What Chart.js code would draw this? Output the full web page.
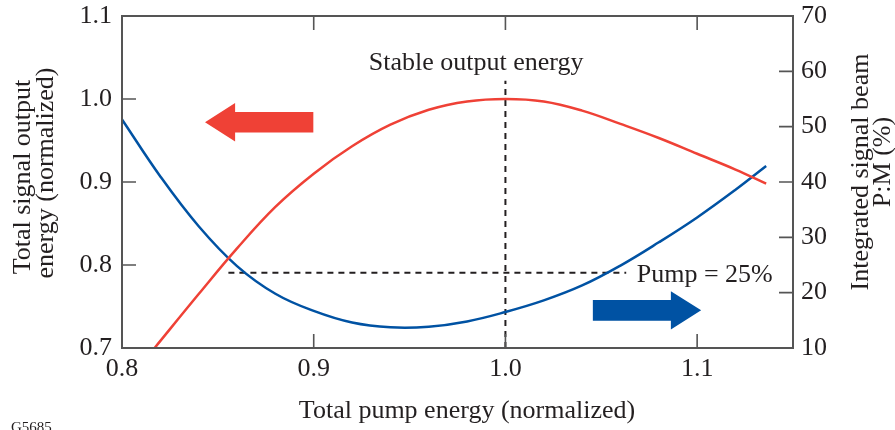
<!DOCTYPE html>
<html>
<head>
<meta charset="utf-8">
<script src="https://cdn.jsdelivr.net/npm/chart.js@4/dist/chart.umd.min.js"></script>
<style>
  html, body { margin: 0; padding: 0; background: #fff; }
  #wrap { width: 895px; height: 430px; }
</style>
</head>
<body>
<div id="wrap"><canvas id="c" width="895" height="430"></canvas></div>
<script>
// ---- data ----
const redX = [0.817, 0.840, 0.860, 0.880, 0.900, 0.920, 0.940, 0.960, 0.980, 1.000, 1.020, 1.040, 1.060, 1.080, 1.100, 1.120, 1.136];
const redY = [0.700, 0.765, 0.820, 0.870, 0.910, 0.943, 0.969, 0.987, 0.997, 1.000, 0.997, 0.986, 0.970, 0.953, 0.934, 0.915, 0.898];

const blueX = [0.800, 0.820, 0.840, 0.860, 0.880, 0.900, 0.920, 0.940, 0.960, 0.980, 1.000, 1.020, 1.040, 1.060, 1.080, 1.100, 1.120, 1.136];
const blueY = [51.3, 41.0, 32.0, 24.8, 19.8, 16.7, 14.6, 13.75, 13.85, 14.8, 16.5, 18.6, 21.3, 24.9, 29.1, 33.6, 38.6, 42.9];

const stableX = [1.0, 1.0];
const stableY = [0.7, 1.022];
const pumpX = [0.8555, 1.063];
const pumpY = [23.6, 23.6];

const xTicks = [0.8, 0.9, 1.0, 1.1];
const yTicks = [0.7, 0.8, 0.9, 1.0, 1.1];
const y2Ticks = [10, 20, 30, 40, 50, 60, 70];

// annotation anchors (data units)
const redArrow = { tail: 0.8998, base: 0.859, tip: 0.8433, y: 0.972 };
const blueArrow = { tail: 1.0456, base: 1.0863, tip: 1.1021, y: 16.8 };
const stableLabel = { text: 'Stable output energy', x: 0.9847, y: 1.035 };
const pumpLabel = { text: 'Pump = 25%', x: 1.0685, y: 21.9 };

// ---- styles ----
const RED = '#EF4136';
const BLUE = '#0052A3';
const INK = '#231F20';
const AXIS = '#555555';
const FONT = '"Liberation Serif", "Times New Roman", serif';

const pts = (xs, ys) => xs.map((x, i) => ({ x: x, y: ys[i] }));

const decorPlugin = {
  id: 'decor',
  afterDatasetsDraw(chart) {
    const ctx = chart.ctx;
    const a = chart.chartArea;
    const sx = chart.scales.x, sy = chart.scales.y, sy2 = chart.scales.y2;

    function arrow(ar, yScale, color) {
      const yc = yScale.getPixelForValue(ar.y);
      const xt = sx.getPixelForValue(ar.tail);
      const xb = sx.getPixelForValue(ar.base);
      const xp = sx.getPixelForValue(ar.tip);
      const sh = 10.3, hh = 19.2;
      ctx.save();
      ctx.fillStyle = color;
      ctx.beginPath();
      ctx.moveTo(xt, yc - sh);
      ctx.lineTo(xb, yc - sh);
      ctx.lineTo(xb, yc - hh);
      ctx.lineTo(xp, yc);
      ctx.lineTo(xb, yc + hh);
      ctx.lineTo(xb, yc + sh);
      ctx.lineTo(xt, yc + sh);
      ctx.closePath();
      ctx.fill();
      ctx.restore();
    }
    arrow(redArrow, sy, RED);
    arrow(blueArrow, sy2, BLUE);

    ctx.save();
    ctx.fillStyle = INK;
    ctx.font = '26px ' + FONT;
    ctx.textBaseline = 'alphabetic';
    ctx.textAlign = 'center';
    ctx.fillText(stableLabel.text, sx.getPixelForValue(stableLabel.x), sy.getPixelForValue(stableLabel.y));
    ctx.textAlign = 'left';
    ctx.fillText(pumpLabel.text, sx.getPixelForValue(pumpLabel.x), sy2.getPixelForValue(pumpLabel.y));
    ctx.restore();

    ctx.save();
    ctx.strokeStyle = AXIS;
    ctx.lineWidth = 2;
    ctx.strokeRect(a.left, a.top, a.right - a.left, a.bottom - a.top);

    ctx.lineWidth = 1.6;
    const TL = 14;
    ctx.beginPath();
    sx.ticks.forEach(t => {
      const p = sx.getPixelForValue(t.value);
      if (p <= a.left + 1 || p >= a.right - 1) return;
      ctx.moveTo(p, a.bottom); ctx.lineTo(p, a.bottom - TL);
      ctx.moveTo(p, a.top); ctx.lineTo(p, a.top + TL);
    });
    sy.ticks.forEach(t => {
      const p = sy.getPixelForValue(t.value);
      if (p <= a.top + 1 || p >= a.bottom - 1) return;
      ctx.moveTo(a.left, p); ctx.lineTo(a.left + TL, p);
    });
    sy2.ticks.forEach(t => {
      const p = sy2.getPixelForValue(t.value);
      if (p <= a.top + 1 || p >= a.bottom - 1) return;
      ctx.moveTo(a.right, p); ctx.lineTo(a.right - TL, p);
    });
    ctx.stroke();
    ctx.restore();

    ctx.save();
    ctx.fillStyle = INK;
    ctx.font = '26px ' + FONT;
    ctx.textAlign = 'center';
    ctx.textBaseline = 'alphabetic';
    ctx.fillText('Total pump energy (normalized)', 467, 418);

    ctx.save();
    ctx.translate(30, 177);
    ctx.rotate(-Math.PI / 2);
    ctx.fillText('Total signal output', 0, 0);
    ctx.restore();
    ctx.save();
    ctx.translate(53, 173);
    ctx.rotate(-Math.PI / 2);
    ctx.fillText('energy (normalized)', 0, 0);
    ctx.restore();

    ctx.save();
    ctx.translate(868, 172);
    ctx.rotate(-Math.PI / 2);
    ctx.fillText('Integrated signal beam', 0, 0);
    ctx.restore();
    ctx.save();
    ctx.translate(890, 162);
    ctx.rotate(-Math.PI / 2);
    ctx.fillText('P:M (%)', 0, 0);
    ctx.restore();

    ctx.textAlign = 'left';
    ctx.font = '15px ' + FONT;
    ctx.fillText('G5685', 11, 432);
    ctx.restore();
  }
};

const tickFont = { family: FONT, size: 26 };

new Chart(document.getElementById('c'), {
  type: 'line',
  data: {
    datasets: [
      { label: 'Total signal output energy', data: pts(redX, redY), yAxisID: 'y',
        borderColor: RED, borderWidth: 2.5, pointRadius: 0, tension: 0.4, fill: false },
      { label: 'Integrated signal beam P:M', data: pts(blueX, blueY), yAxisID: 'y2',
        borderColor: BLUE, borderWidth: 2.5, pointRadius: 0, tension: 0.4, fill: false },
      { label: 'Stable output energy', data: pts(stableX, stableY), yAxisID: 'y',
        borderColor: INK, borderWidth: 2, borderDash: [6, 5], pointRadius: 0, tension: 0, fill: false },
      { label: 'Pump = 25%', data: pts(pumpX, pumpY), yAxisID: 'y2',
        borderColor: INK, borderWidth: 2, borderDash: [6, 5], pointRadius: 0, tension: 0, fill: false }
    ]
  },
  options: {
    responsive: false,
    animation: false,
    devicePixelRatio: 1,
    layout: { padding: { top: 16, left: 0, right: 0, bottom: 0 } },
    plugins: { legend: { display: false }, tooltip: { enabled: false } },
    scales: {
      x: {
        type: 'linear', position: 'bottom', min: 0.8, max: 1.15,
        afterBuildTicks: s => { s.ticks = xTicks.map(v => ({ value: v })); },
        afterFit: s => { s.height = 82; s.paddingLeft = 0; s.paddingRight = 0; },
        grid: { display: false, drawTicks: false },
        border: { display: false },
        ticks: { font: tickFont, color: INK, padding: 6, maxRotation: 0, callback: v => Number(v).toFixed(1) }
      },
      y: {
        type: 'linear', position: 'left', min: 0.7, max: 1.1,
        afterBuildTicks: s => { s.ticks = yTicks.map(v => ({ value: v })); },
        afterFit: s => { s.width = 122; s.paddingTop = 0; s.paddingBottom = 0; },
        grid: { display: false, drawTicks: false },
        border: { display: false },
        ticks: { font: tickFont, color: INK, padding: 10, callback: v => Number(v).toFixed(1) }
      },
      y2: {
        type: 'linear', position: 'right', min: 10, max: 70,
        afterBuildTicks: s => { s.ticks = y2Ticks.map(v => ({ value: v })); },
        afterFit: s => { s.width = 102; s.paddingTop = 0; s.paddingBottom = 0; },
        grid: { display: false, drawTicks: false },
        border: { display: false },
        ticks: { font: tickFont, color: INK, padding: 8, callback: v => String(v) }
      }
    }
  },
  plugins: [decorPlugin]
});
</script>
</body>
</html>
